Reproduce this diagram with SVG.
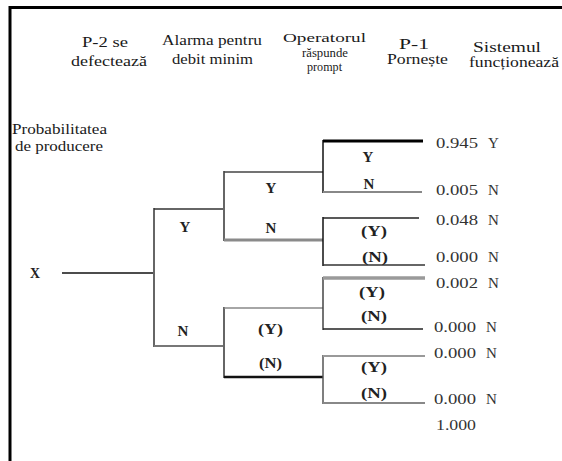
<svg xmlns="http://www.w3.org/2000/svg" width="562" height="461" viewBox="0 0 562 461">
<style>
text{font-family:"Liberation Serif","DejaVu Serif","Times New Roman",serif;font-size:15px;fill:#1a1a1a;}
.hd{font-size:15px;}
.hs{font-size:13px;}
.lb{font-size:15px;fill:#222;font-weight:bold;}
.num{font-size:15px;fill:#333;}
line{stroke-linecap:butt;fill:none;}
.k{stroke:#111;stroke-width:1.5;}
.kt{stroke:#000;stroke-width:3;}
.g{stroke:#666;stroke-width:2;}
.gl{stroke:#999;stroke-width:2;}
.gt{stroke:#8a8a8a;stroke-width:3;}
</style>
<rect x="0" y="0" width="562" height="461" fill="#fff"/>
<g id="frame">
<line x1="9" y1="7.5" x2="562" y2="7.5" stroke="#000" stroke-width="3"/>
<line x1="10" y1="6" x2="10" y2="461" stroke="#000" stroke-width="3"/>
</g>
<g id="headers">
<g id="h-p2"><text class="hd" x="82" y="47" textLength="46" lengthAdjust="spacingAndGlyphs">P-2 se</text><text class="hd" x="71" y="66" textLength="76" lengthAdjust="spacingAndGlyphs">defectează</text></g>
<g id="h-alarma"><text class="hd" x="162" y="45" textLength="100" lengthAdjust="spacingAndGlyphs">Alarma pentru</text><text class="hd" x="172" y="64" textLength="81" lengthAdjust="spacingAndGlyphs">debit minim</text></g>
<g id="h-operator"><text class="hs" x="283" y="42" textLength="83" lengthAdjust="spacingAndGlyphs">Operatorul</text><text class="hs" x="302" y="57" textLength="46" lengthAdjust="spacingAndGlyphs">răspunde</text><text class="hs" x="307" y="71" textLength="35" lengthAdjust="spacingAndGlyphs">prompt</text></g>
<g id="h-p1"><text class="hd" x="399" y="49" textLength="30" lengthAdjust="spacingAndGlyphs">P-1</text><text class="hd" x="387" y="64" textLength="61" lengthAdjust="spacingAndGlyphs">Pornește</text></g>
<g id="h-sistem"><text class="hd" x="473" y="52" textLength="68" lengthAdjust="spacingAndGlyphs">Sistemul</text><text class="hd" x="469" y="67" textLength="90" lengthAdjust="spacingAndGlyphs">funcționează</text></g>
<g id="h-prob"><text class="hd" x="12" y="134" textLength="95" lengthAdjust="spacingAndGlyphs">Probabilitatea</text><text class="hd" x="15" y="151" textLength="88" lengthAdjust="spacingAndGlyphs">de producere</text></g>
</g>
<g id="connectors">
<line class="k" x1="62" y1="273" x2="154" y2="273"/>
<line class="g" x1="154" y1="208" x2="154" y2="347"/>
<line stroke="#333" stroke-width="1.5" x1="154" y1="209" x2="224" y2="209"/>
<line stroke="#777" stroke-width="2" x1="154" y1="346" x2="224" y2="346"/>
<line class="g" x1="224" y1="171" x2="224" y2="241"/>
<line class="g" x1="224" y1="307" x2="224" y2="378"/>
<line stroke="#444" stroke-width="1.5" x1="224" y1="172" x2="323" y2="172"/>
<line class="gt" x1="224" y1="240" x2="323" y2="240"/>
<line stroke="#888" stroke-width="1.5" x1="224" y1="308" x2="323" y2="308"/>
<line stroke="#111" stroke-width="2.5" x1="224" y1="377" x2="323" y2="377"/>
<line class="k" x1="323" y1="140" x2="323" y2="193"/>
<line class="kt" x1="323" y1="141" x2="423" y2="141"/>
<line stroke="#888" stroke-width="2" x1="323" y1="192" x2="422" y2="192"/>
<line class="k" x1="323" y1="217" x2="323" y2="266"/>
<line stroke="#222" stroke-width="1.5" x1="323" y1="218" x2="419" y2="218"/>
<line stroke="#333" stroke-width="1.5" x1="323" y1="265" x2="425" y2="265"/>
<line stroke="#444" stroke-width="1.5" x1="323" y1="277" x2="323" y2="330"/>
<line stroke="#9a9a9a" stroke-width="3.5" x1="323" y1="278" x2="425" y2="278"/>
<line stroke="#222" stroke-width="1.5" x1="323" y1="329" x2="423" y2="329"/>
<line stroke="#555" stroke-width="1.5" x1="323" y1="355" x2="323" y2="404"/>
<line class="gl" x1="323" y1="356" x2="425" y2="356"/>
<line stroke="#888" stroke-width="2" x1="323" y1="403" x2="425" y2="403"/>
</g>
<g id="node-x"><text class="lb" x="30" y="278" textLength="10" lengthAdjust="spacingAndGlyphs">X</text></g>
<g id="labels-p2">
<g id="l-p2-y"><text class="lb" x="185" y="232" text-anchor="middle">Y</text></g>
<g id="l-p2-n"><text class="lb" x="183" y="336" text-anchor="middle">N</text></g>
</g>
<g id="labels-alarma">
<g id="l-al-y"><text class="lb" x="271" y="193" text-anchor="middle">Y</text></g>
<g id="l-al-n"><text class="lb" x="271" y="233" text-anchor="middle">N</text></g>
<g id="l-al-py"><text class="lb" x="258" y="334" textLength="25" lengthAdjust="spacingAndGlyphs">(Y)</text></g>
<g id="l-al-pn"><text class="lb" x="259" y="368" textLength="23" lengthAdjust="spacingAndGlyphs">(N)</text></g>
</g>
<g id="labels-operator">
<g id="l-op1-y"><text class="lb" x="368" y="162" text-anchor="middle">Y</text></g>
<g id="l-op1-n"><text class="lb" x="369" y="189" text-anchor="middle">N</text></g>
<g id="l-op2-y"><text class="lb" x="361" y="236" textLength="26" lengthAdjust="spacingAndGlyphs">(Y)</text></g>
<g id="l-op2-n"><text class="lb" x="362" y="262" textLength="26" lengthAdjust="spacingAndGlyphs">(N)</text></g>
<g id="l-op3-y"><text class="lb" x="359" y="297" textLength="26" lengthAdjust="spacingAndGlyphs">(Y)</text></g>
<g id="l-op3-n"><text class="lb" x="361" y="321" textLength="26" lengthAdjust="spacingAndGlyphs">(N)</text></g>
<g id="l-op4-y"><text class="lb" x="361" y="372" textLength="26" lengthAdjust="spacingAndGlyphs">(Y)</text></g>
<g id="l-op4-n"><text class="lb" x="361" y="398" textLength="26" lengthAdjust="spacingAndGlyphs">(N)</text></g>
</g>
<g id="outcomes">
<g id="o1"><text class="num" x="436" y="148"><tspan textLength="42" lengthAdjust="spacingAndGlyphs">0.945</tspan><tspan x="488">Y</tspan></text></g>
<g id="o2"><text class="num" x="436" y="195"><tspan textLength="42" lengthAdjust="spacingAndGlyphs">0.005</tspan><tspan x="488">N</tspan></text></g>
<g id="o3"><text class="num" x="436" y="225"><tspan textLength="42" lengthAdjust="spacingAndGlyphs">0.048</tspan><tspan x="488">N</tspan></text></g>
<g id="o4"><text class="num" x="436" y="262"><tspan textLength="42" lengthAdjust="spacingAndGlyphs">0.000</tspan><tspan x="488">N</tspan></text></g>
<g id="o5"><text class="num" x="436" y="288"><tspan textLength="42" lengthAdjust="spacingAndGlyphs">0.002</tspan><tspan x="488">N</tspan></text></g>
<g id="o6"><text class="num" x="434" y="332"><tspan textLength="42" lengthAdjust="spacingAndGlyphs">0.000</tspan><tspan x="486">N</tspan></text></g>
<g id="o7"><text class="num" x="434" y="358"><tspan textLength="42" lengthAdjust="spacingAndGlyphs">0.000</tspan><tspan x="486">N</tspan></text></g>
<g id="o8"><text class="num" x="434" y="404"><tspan textLength="42" lengthAdjust="spacingAndGlyphs">0.000</tspan><tspan x="486">N</tspan></text></g>
<g id="total"><text class="num" x="436" y="430" textLength="40" lengthAdjust="spacingAndGlyphs">1.000</text></g>
</g>
</svg>
